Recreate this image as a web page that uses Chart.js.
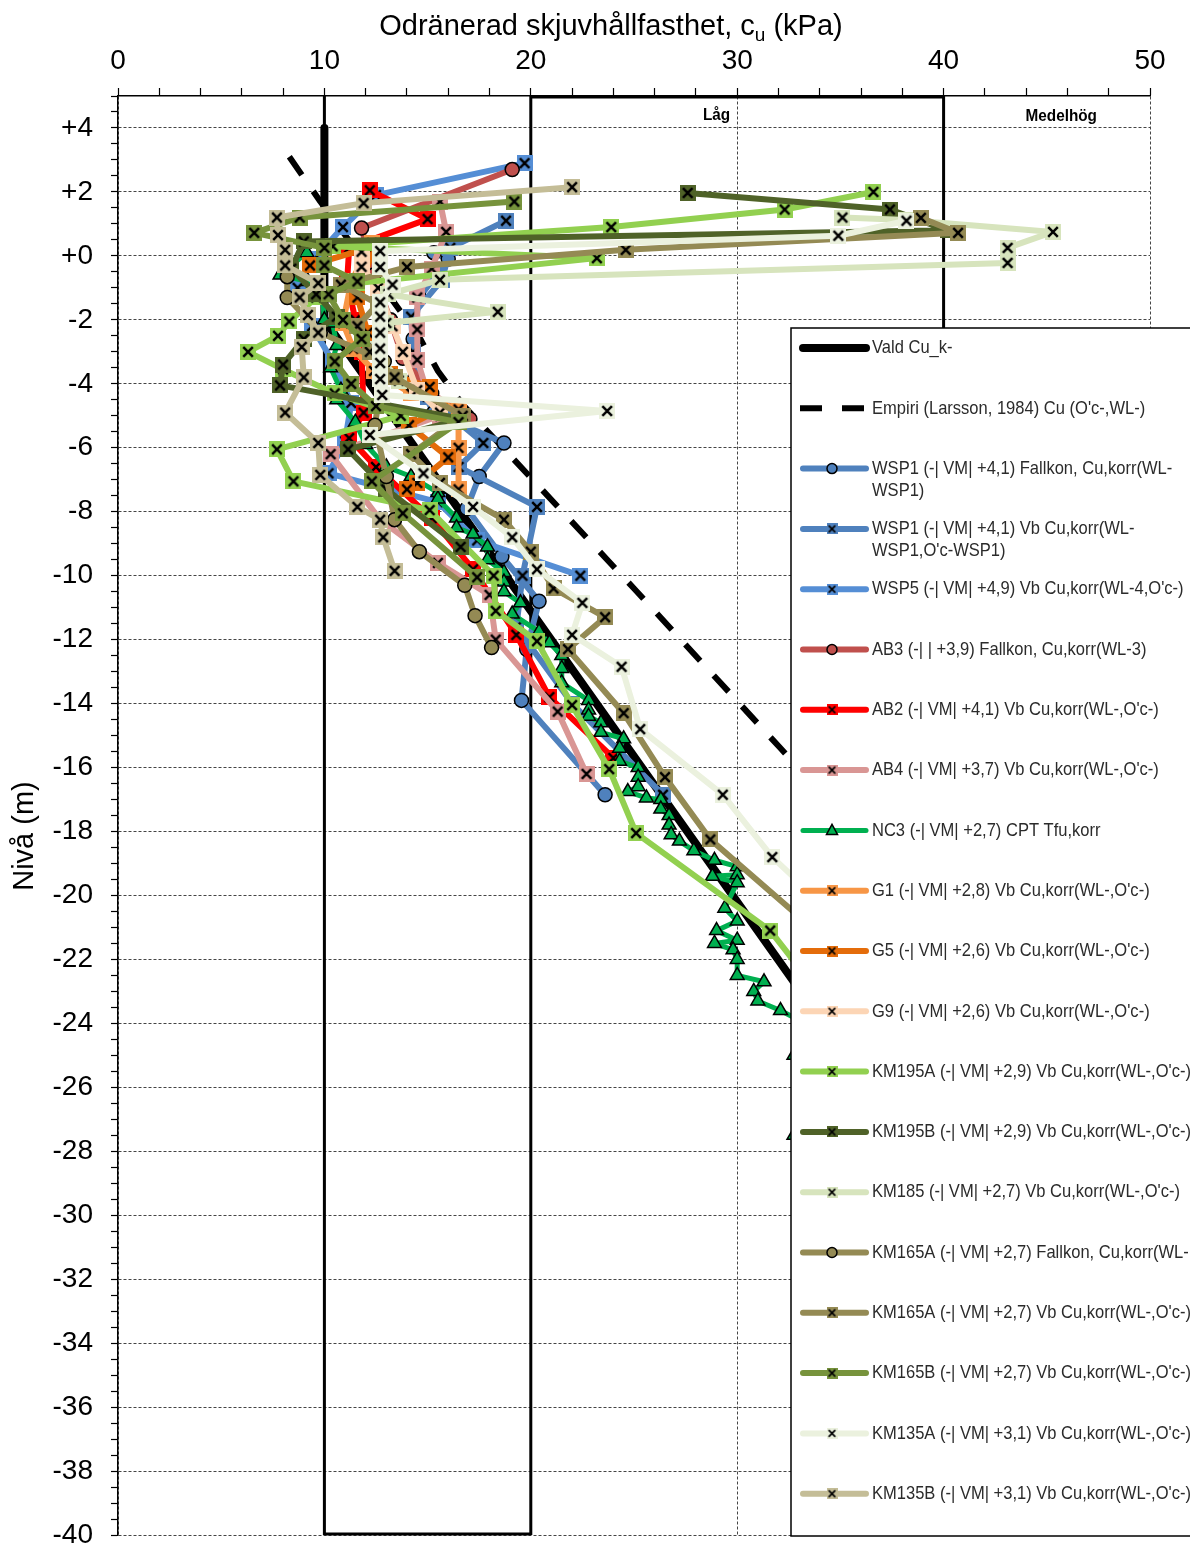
<!DOCTYPE html>
<html lang="sv">
<head>
<meta charset="UTF-8">
<title>Odränerad skjuvhållfasthet</title>
<script src="https://cdn.jsdelivr.net/npm/chart.js@4.4.1/dist/chart.umd.min.js"></script>
<style>
  html, body { margin: 0; padding: 0; background: #fff; }
  #wrap { width: 1190px; height: 1546px; }
</style>
</head>
<body>
<div id="wrap"><canvas id="chart" width="1190" height="1546"></canvas></div>
<script>
// alla serier: [cu (kPa), nivå (m)]
const valdCu = [[10, 4], [10, -2], [50, -38.4]];
const empiri = [[8.3, 3.1], [9.8, 1.7], [12.2, -0.4], [14.65, -2.6], [15.5, -3.6], [16.7, -4.65], [25, -10.4], [32.1, -15.4], [36, -18.2]];
const wsp1Fallkon = [[15.3, 0.1], [16.0, -0.1], [14.6, -1.3], [14.3, -2.6], [14.4, -3.8], [15.3, -4.9], [18.7, -5.85], [17.5, -6.9], [16.9, -7.9], [18.6, -9.4], [20.4, -10.8], [19.8, -12.3], [19.55, -13.9], [23.6, -16.85]];
const wsp1Vb = [[18.8, 1.1], [16.1, 0.25], [15.7, -0.75], [14.2, -1.9], [14.3, -3.0], [15.0, -4.4], [17.7, -5.85], [16.5, -6.6], [20.3, -7.85], [19.6, -10.0], [19.3, -11.6], [22.0, -14.0], [26.4, -16.85]];
const wsp5Vb = [[19.7, 2.9], [12.5, 1.9], [10.9, 0.9], [9.5, -0.1], [8.7, -1.0], [9.4, -2.2], [10.4, -3.3], [11.3, -4.6], [11.0, -5.8], [10.2, -6.8], [15.5, -7.7], [17.4, -8.9], [22.4, -10.0]];
const ab3Fallkon = [[19.1, 2.7], [11.8, 0.87], [12.4, -0.6], [13.2, -2.0], [13.8, -3.2], [15.2, -4.3], [17.05, -5.1]];
const ab2Vb = [[12.2, 2.05], [15.0, 1.15], [11.2, 0.25], [11.1, -0.8], [11.5, -2.0], [11.8, -3.0], [11.9, -4.9], [11.2, -5.7], [12.5, -6.6], [15.2, -8.2], [17.2, -9.8], [19.3, -11.85], [20.9, -13.8], [24.0, -15.7]];
const ab4Vb = [[15.6, 1.7], [15.9, 0.75], [15.2, -0.4], [14.5, -1.3], [14.5, -2.3], [14.5, -3.25], [15.0, -4.3], [15.6, -5.0], [10.3, -6.2], [12.7, -8.25], [15.5, -9.6], [18.0, -10.6], [18.3, -12.0], [21.3, -14.25], [22.7, -16.2]];
const nc3Cpt = [[9.15, 0.1], [7.85, -0.6], [9.2, -0.8], [9.9, -1.3], [10.0, -2.0], [10.4, -2.1], [10.6, -2.8], [10.3, -3.5], [10.8, -4.2], [10.6, -4.5], [11.5, -5.2], [12.0, -5.9], [13.0, -6.6], [14.2, -6.9], [15.5, -7.4], [15.5, -7.6], [16.4, -8.2], [16.4, -8.5], [17.2, -8.7], [17.9, -9.1], [17.9, -9.5], [18.7, -9.9], [18.7, -10.2], [18.7, -10.5], [19.5, -10.85], [19.1, -11.2], [20.4, -11.75], [20.9, -12.1], [21.5, -12.5], [21.5, -12.9], [21.5, -13.35], [22.8, -13.9], [22.8, -14.2], [22.8, -14.4], [23.4, -14.6], [23.4, -14.9], [24.5, -15.1], [24.3, -15.4], [24.3, -15.8], [25.2, -16.0], [25.2, -16.3], [25.2, -16.6], [24.7, -16.75], [25.6, -16.95], [26.3, -17.0], [26.3, -17.3], [26.7, -17.5], [26.7, -17.8], [26.8, -18.1], [27.2, -18.3], [27.9, -18.6], [28.9, -18.9], [30.0, -19.1], [30.0, -19.35], [28.8, -19.4], [30.0, -19.6], [29.4, -20.4], [30.0, -20.8], [29.0, -21.1], [30.0, -21.4], [28.9, -21.5], [29.8, -21.7], [30.0, -22.0], [30.0, -22.5], [31.3, -22.7], [30.8, -23.0], [31.0, -23.3], [32.1, -23.6], [33.0, -23.9], [32.75, -25.0], [34.0, -26.2], [32.75, -27.5], [34.5, -29.0]];
const g1Vb = [[12.3, 0.4], [11.3, -0.8], [10.9, -2.1], [11.4, -2.9], [12.4, -3.6], [14.2, -4.3], [16.5, -4.8], [16.5, -6.0], [16.5, -7.3]];
const g5Vb = [[9.3, -0.3], [12.4, 0.3], [11.6, -1.3], [12.1, -2.4], [13.2, -3.7], [15.1, -4.1], [15.6, -4.8], [14.1, -5.3], [16.0, -6.3], [14.5, -7.1], [14.0, -7.3]];
const g9Vb = [[11.8, 0.13], [11.8, -0.34], [12.6, -1.0], [13.3, -2.2], [13.8, -3.0], [14.5, -4.2], [15.6, -4.9]];
const km195aVb = [[36.6, 2.0], [32.3, 1.45], [23.9, 0.9], [10.4, 0.3], [23.2, -0.07], [11.6, -0.85], [9.6, -1.3], [8.3, -2.05], [7.75, -2.5], [6.3, -3.0], [8.0, -3.55], [10.5, -4.3], [13.7, -5.0], [7.7, -6.05], [8.5, -7.05], [15.1, -7.95], [18.2, -10.0], [18.3, -11.1], [20.3, -12.05], [22.0, -14.05], [23.8, -16.05], [25.1, -18.05], [31.6, -21.1], [34.5, -23.5]];
const km195bVb = [[27.6, 1.97], [37.4, 1.45], [40.2, 0.8], [9.0, 0.45], [8.4, -0.4], [9.6, -1.2], [10.6, -1.9], [9.0, -2.6], [8.0, -3.4], [7.85, -4.05], [16.7, -5.1], [11.15, -6.05], [13.0, -7.3], [16.6, -9.1]];
const km185Vb = [[35.1, 1.2], [38.2, 1.12], [45.3, 0.75], [43.1, 0.25], [43.1, -0.22], [15.6, -0.75], [13.1, -1.2], [18.4, -1.75], [13.0, -2.1], [12.4, -2.9], [13.6, -3.9]];
const km165aFallkon = [[8.2, -0.65], [8.2, -1.3], [9.8, -2.4], [12.9, -3.3], [12.45, -5.3], [13.0, -6.9], [13.4, -8.25], [14.6, -9.25], [16.8, -10.3], [17.3, -11.25], [18.1, -12.25]];
const km165aVb = [[38.9, 1.19], [40.7, 0.72], [24.6, 0.19], [14.0, -0.35], [10.8, -0.9], [12.6, -1.5], [11.6, -2.2], [12.2, -3.0], [13.4, -3.8], [16.7, -5.0], [14.2, -6.2], [15.6, -7.1], [18.7, -8.25], [20.0, -9.25], [21.1, -10.4], [23.6, -11.3], [21.8, -12.3], [24.5, -14.3], [26.5, -16.3], [28.7, -18.25], [34.5, -21.5]];
const km165bVb = [[19.2, 1.7], [8.8, 1.2], [6.6, 0.72], [10.0, 0.25], [10.0, -0.3], [11.6, -0.8], [10.2, -1.2], [10.9, -2.0], [11.8, -2.6], [10.5, -3.3], [11.3, -4.0], [12.5, -4.7], [16.5, -5.2], [12.3, -7.05], [13.8, -8.05], [17.4, -10.05]];
const km135aVb = [[38.2, 1.1], [34.9, 0.63], [12.7, 0.15], [12.7, -0.35], [13.3, -0.9], [12.7, -1.45], [12.7, -1.9], [12.7, -2.4], [12.7, -2.9], [12.7, -3.35], [12.7, -3.85], [12.8, -4.35], [23.7, -4.85], [12.2, -5.6], [14.8, -6.8], [17.2, -7.85], [19.1, -8.8], [20.3, -9.8], [22.5, -10.85], [22.0, -11.85], [24.4, -12.85], [25.3, -14.8], [29.3, -16.85], [31.7, -18.8], [34.5, -20.5]];
const km135bVb = [[22.0, 2.15], [11.9, 1.65], [7.7, 1.2], [7.75, 0.65], [8.1, 0.19], [8.1, -0.3], [9.7, -0.85], [8.8, -1.3], [9.2, -1.85], [9.7, -2.4], [8.9, -2.85], [9.0, -3.8], [8.1, -4.9], [9.7, -5.85], [9.8, -6.85], [11.6, -7.85], [12.7, -8.25], [12.85, -8.8], [13.4, -9.85]];

const xTickLabels = [0, 10, 20, 30, 40, 50];
const zoneLines = [10, 20, 40];
const zoneNames = [['Låg', 29.0, 4.4], ['Medelhög', 45.7, 4.35]];

const series = [
  { label: 'Vald Cu_k-', data: valdCu, color: '#000000', marker: null, width: 8 },
  { label: "Empiri (Larsson, 1984) Cu (O'c-,WL-)", data: empiri, color: '#000000', marker: null, width: 6, dash: [22, 20] },
  { label: 'WSP1 (-| VM| +4,1) Fallkon, Cu,korr(WL-\nWSP1)', data: wsp1Fallkon, color: '#4F81BD', marker: 'circle' },
  { label: "WSP1 (-| VM| +4,1) Vb Cu,korr(WL-\nWSP1,O'c-WSP1)", data: wsp1Vb, color: '#4F81BD', marker: 'x' },
  { label: "WSP5 (-| VM| +4,9) Vb Cu,korr(WL-4,O'c-)", data: wsp5Vb, color: '#558ED5', marker: 'x' },
  { label: 'AB3 (-| | +3,9) Fallkon, Cu,korr(WL-3)', data: ab3Fallkon, color: '#C0504D', marker: 'circle' },
  { label: "AB2 (-| VM| +4,1) Vb Cu,korr(WL-,O'c-)", data: ab2Vb, color: '#FF0000', marker: 'x' },
  { label: "AB4 (-| VM| +3,7) Vb Cu,korr(WL-,O'c-)", data: ab4Vb, color: '#D99694', marker: 'x' },
  { label: 'NC3 (-| VM| +2,7) CPT Tfu,korr', data: nc3Cpt, color: '#00B050', marker: 'triangle', width: 5 },
  { label: "G1 (-| VM| +2,8) Vb Cu,korr(WL-,O'c-)", data: g1Vb, color: '#F79646', marker: 'x' },
  { label: "G5 (-| VM| +2,6) Vb Cu,korr(WL-,O'c-)", data: g5Vb, color: '#E46C0A', marker: 'x' },
  { label: "G9 (-| VM| +2,6) Vb Cu,korr(WL-,O'c-)", data: g9Vb, color: '#FCD5B5', marker: 'x' },
  { label: "KM195A (-| VM| +2,9) Vb Cu,korr(WL-,O'c-)", data: km195aVb, color: '#92D050', marker: 'x' },
  { label: "KM195B (-| VM| +2,9) Vb Cu,korr(WL-,O'c-)", data: km195bVb, color: '#4F6228', marker: 'x' },
  { label: "KM185 (-| VM| +2,7) Vb Cu,korr(WL-,O'c-)", data: km185Vb, color: '#D7E4BD', marker: 'x' },
  { label: 'KM165A (-| VM| +2,7) Fallkon, Cu,korr(WL-', data: km165aFallkon, color: '#948A54', marker: 'circle' },
  { label: "KM165A (-| VM| +2,7) Vb Cu,korr(WL-,O'c-)", data: km165aVb, color: '#948A54', marker: 'x' },
  { label: "KM165B (-| VM| +2,7) Vb Cu,korr(WL-,O'c-)", data: km165bVb, color: '#77933C', marker: 'x' },
  { label: "KM135A (-| VM| +3,1) Vb Cu,korr(WL-,O'c-)", data: km135aVb, color: '#EBF1DE', marker: 'x' },
  { label: "KM135B (-| VM| +3,1) Vb Cu,korr(WL-,O'c-)", data: km135bVb, color: '#C4BD97', marker: 'x' }
];

function xMarker(color, size) {
  const c = document.createElement('canvas');
  c.width = size; c.height = size;
  const g = c.getContext('2d');
  g.fillStyle = color;
  g.fillRect(0, 0, size, size);
  g.strokeStyle = '#000';
  g.lineWidth = size / 6.5;
  const m = size * 0.2;
  g.beginPath();
  g.moveTo(m, m); g.lineTo(size - m, size - m);
  g.moveTo(size - m, m); g.lineTo(m, size - m);
  g.stroke();
  return c;
}

const datasets = series.map((s, i) => ({
  label: s.label,
  data: s.data.map(p => ({ x: p[0], y: p[1] })),
  showLine: true,
  borderColor: s.color,
  backgroundColor: s.color,
  borderWidth: s.width || 6,
  borderDash: s.dash || [],
  borderJoinStyle: 'round',
  borderCapStyle: s.dash ? 'butt' : 'round',
  tension: 0,
  order: series.length - i,
  marker: s.marker,
  pointStyle: s.marker === 'x' ? xMarker(s.color, 16) : (s.marker || 'circle'),
  pointRadius: s.marker ? (s.marker === 'triangle' ? 8 : 7) : 0,
  pointBackgroundColor: s.color,
  pointBorderColor: '#000',
  pointBorderWidth: 1.5,
  legendX: s.marker === 'x' ? xMarker(s.color, 11) : null
}));

const fontMain = "'Liberation Sans', Arial, sans-serif";

const decor = {
  id: 'decor',
  beforeDatasetsDraw(chart) {
    const { ctx, scales: { x, y } } = chart;
    const top = y.getPixelForValue(y.max), bottom = y.getPixelForValue(y.min);
    ctx.save();
    ctx.strokeStyle = '#000';
    ctx.lineWidth = 3;
    ctx.beginPath();
    zoneLines.forEach(v => {
      const px = x.getPixelForValue(v);
      ctx.moveTo(px, top); ctx.lineTo(px, bottom);
    });
    ctx.moveTo(x.getPixelForValue(20), top + 1); ctx.lineTo(x.getPixelForValue(40), top + 1);
    ctx.moveTo(x.getPixelForValue(10), bottom - 1); ctx.lineTo(x.getPixelForValue(20), bottom - 1);
    ctx.stroke();
    ctx.fillStyle = '#000';
    ctx.font = 'bold 17px ' + fontMain;
    ctx.textAlign = 'center';
    ctx.textBaseline = 'middle';
    zoneNames.forEach(z => {
      ctx.save();
      ctx.translate(x.getPixelForValue(z[1]), y.getPixelForValue(z[2]));
      ctx.scale(0.9, 1);
      ctx.fillText(z[0], 0, 0);
      ctx.restore();
    });
    ctx.restore();
  },
  afterDraw(chart) {
    const { ctx, data } = chart;
    ctx.save();
    // axeltitlar
    ctx.fillStyle = '#000';
    ctx.textBaseline = 'alphabetic';
    ctx.textAlign = 'left';
    const t1 = 'Odränerad skjuvhållfasthet, c', t2 = 'u', t3 = ' (kPa)';
    ctx.font = '29px ' + fontMain;
    const w1 = ctx.measureText(t1).width, w3 = ctx.measureText(t3).width;
    ctx.font = '19px ' + fontMain;
    const w2 = ctx.measureText(t2).width;
    let tx = 611 - (w1 + w2 + w3) / 2;
    ctx.font = '29px ' + fontMain;
    ctx.fillText(t1, tx, 35);
    ctx.font = '19px ' + fontMain;
    ctx.fillText(t2, tx + w1, 41);
    ctx.font = '29px ' + fontMain;
    ctx.fillText(t3, tx + w1 + w2, 35);
    ctx.save();
    ctx.translate(33, 836);
    ctx.rotate(-Math.PI / 2);
    ctx.textAlign = 'center';
    ctx.fillText('Nivå (m)', 0, 0);
    ctx.restore();

    // förklaring
    const lx = 791, ly = 328;
    ctx.fillStyle = '#fff';
    ctx.fillRect(lx, ly, 420, 1208);
    ctx.strokeStyle = '#000';
    ctx.lineWidth = 1.5;
    ctx.strokeRect(lx, ly, 420, 1208);
    ctx.font = '19px ' + fontMain;
    ctx.textBaseline = 'middle';
    data.datasets.forEach((ds, i) => {
      const cy = ly + 20 + i * 60.3;
      ctx.beginPath();
      ctx.strokeStyle = ds.borderColor;
      ctx.lineWidth = ds.borderWidth;
      ctx.lineCap = ds.borderDash.length ? 'butt' : 'round';
      ctx.setLineDash(ds.borderDash);
      ctx.moveTo(ds.borderDash.length ? 800 : 803, cy);
      ctx.lineTo(866, cy);
      ctx.stroke();
      ctx.setLineDash([]);
      if (ds.marker === 'x') {
        ctx.drawImage(ds.legendX, 832 - 5.5, cy - 5.5);
      } else if (ds.marker === 'circle') {
        ctx.beginPath();
        ctx.arc(832, cy, 5, 0, Math.PI * 2);
        ctx.fillStyle = ds.borderColor; ctx.fill();
        ctx.lineWidth = 1.5; ctx.strokeStyle = '#000'; ctx.stroke();
      } else if (ds.marker === 'triangle') {
        ctx.beginPath();
        ctx.moveTo(832, cy - 6); ctx.lineTo(837.5, cy + 4); ctx.lineTo(826.5, cy + 4); ctx.closePath();
        ctx.fillStyle = ds.borderColor; ctx.fill();
        ctx.lineWidth = 1.5; ctx.strokeStyle = '#000'; ctx.stroke();
      }
      ctx.fillStyle = '#2b2b2b';
      ctx.textAlign = 'left';
      ds.label.split('\n').forEach((t, k) => {
        ctx.save();
        ctx.translate(872, cy + k * 22);
        ctx.scale(0.87, 1);
        ctx.fillText(t, 0, 0);
        ctx.restore();
      });
    });
    ctx.restore();
  }
};

const isMult = (v, m) => Math.abs(v / m - Math.round(v / m)) < 1e-9;

new Chart(document.getElementById('chart'), {
  type: 'scatter',
  data: { datasets },
  plugins: [decor],
  options: {
    responsive: false,
    animation: false,
    devicePixelRatio: 1,
    events: [],
    layout: { padding: { left: 0, right: 40, top: 0, bottom: 11 } },
    plugins: { legend: { display: false }, tooltip: { enabled: false } },
    scales: {
      x: {
        type: 'linear', position: 'top', min: 0, max: 50,
        afterFit: s => { s.height = 96; s.paddingLeft = 0; s.paddingRight = 0; },
        ticks: {
          stepSize: 2, autoSkip: false, maxRotation: 0, padding: 10, color: '#000',
          font: { family: fontMain, size: 28 },
          callback: v => xTickLabels.includes(v) ? String(v) : ''
        },
        grid: {
          color: c => (c.tick && isMult(c.tick.value, 10)) ? '#444' : 'rgba(0,0,0,0)',
          lineWidth: 1, tickLength: 8, tickColor: '#000', tickWidth: 1.2
        },
        border: { display: true, color: '#000', width: 1.5, dash: [3, 2] }
      },
      y: {
        type: 'linear', position: 'left', min: -40, max: 5,
        afterFit: s => { s.width = 118; s.paddingTop = 0; s.paddingBottom = 0; },
        ticks: {
          stepSize: 0.5, autoSkip: false, padding: 18, color: '#000',
          font: { family: fontMain, size: 28 },
          callback: v => isMult(v, 2) ? (v >= 0 ? '+' + Math.abs(v) : String(v)) : ''
        },
        grid: {
          color: c => (c.tick && isMult(c.tick.value, 2)) ? '#444' : 'rgba(0,0,0,0)',
          lineWidth: 1, tickLength: 7, tickColor: '#000', tickWidth: 1.2
        },
        border: { display: true, color: '#000', width: 1.5, dash: [3, 2] }
      }
    }
  }
});
</script>
</body>
</html>
